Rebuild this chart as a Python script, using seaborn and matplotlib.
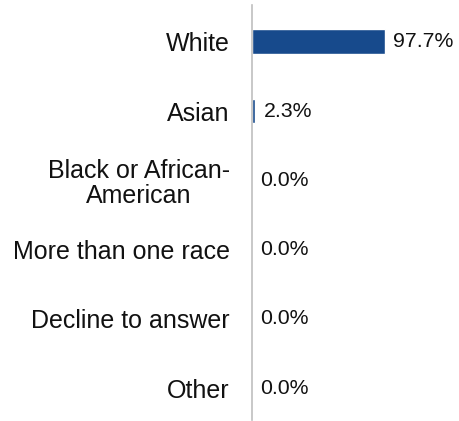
import pandas as pd
import seaborn as sns
import matplotlib.pyplot as plt

categories = ["White", "Asian", "Black or African-\nAmerican", "More than one race",
              "Decline to answer", "Other"]
values = [97.7, 2.3, 0.0, 0.0, 0.0, 0.0]

df = pd.DataFrame({"Race": categories, "Pct": values})

sns.set_style("white")
plt.rcParams['font.family'] = ['Liberation Sans', 'DejaVu Sans']

fig = plt.figure(figsize=(4.6, 4.21), dpi=100)
ax = fig.add_axes([252 / 460, 1 / 421, 208 / 460, 415 / 421])

sns.barplot(data=df, x="Pct", y="Race", orient="h", color="#174A8C",
            width=0.36, saturation=1, ax=ax)

ax.set_xlim(0, 153)
ax.set_ylim(5.46, -0.53)
ax.set_xlabel("")
ax.set_ylabel("")
ax.set_xticks([])
for s in ["top", "right", "bottom"]:
    ax.spines[s].set_visible(False)
ax.spines["left"].set_color("#BFBFBF")
ax.spines["left"].set_linewidth(1.2)

ax.tick_params(axis="y", length=0, pad=16, labelsize=18, labelcolor="#111111")
for lab in ax.get_yticklabels():
    lab.set_multialignment("center")
    lab.set_linespacing(1.05)

for i, v in enumerate(values):
    ax.annotate(f"{v:.1f}%", xy=(v, i), xytext=(6, 0), textcoords="offset points",
                va="center", ha="left", fontsize=15.3, color="#111111")

fig.savefig("out.png", dpi=100)
